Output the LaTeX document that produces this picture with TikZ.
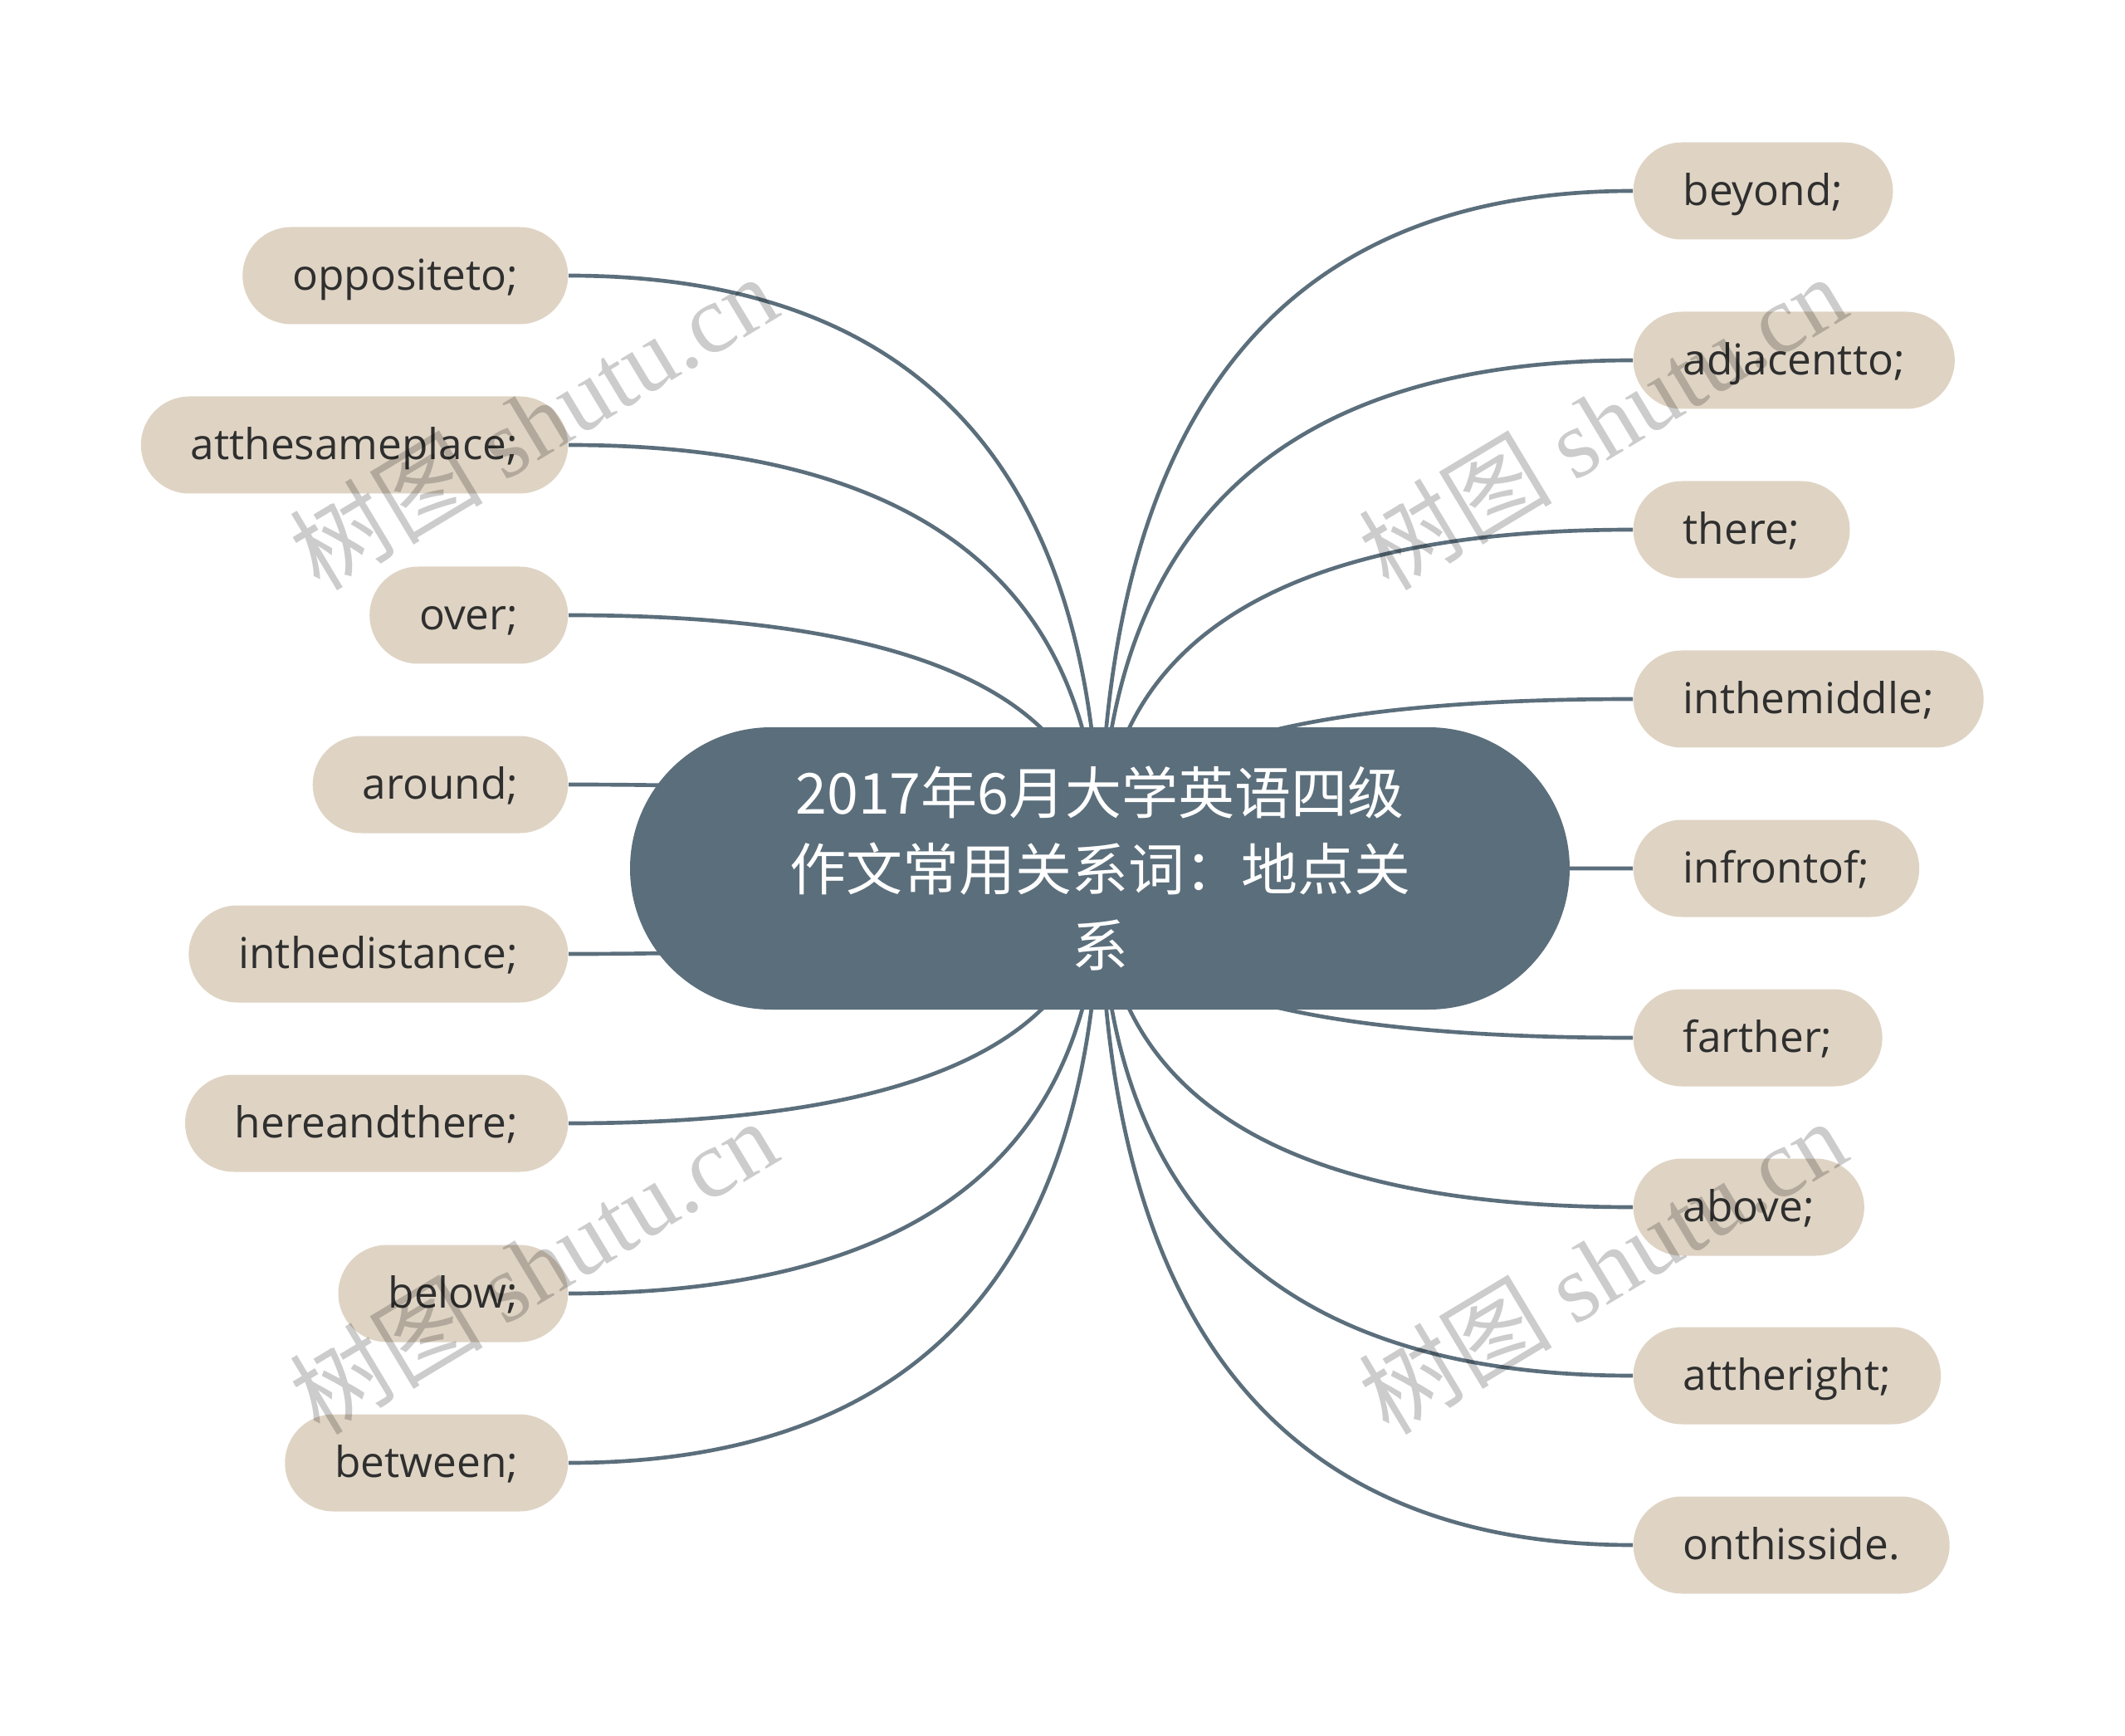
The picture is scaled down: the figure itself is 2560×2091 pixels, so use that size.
\documentclass[tikz,border=0pt]{standalone}
\usepackage{fontspec}
\setmainfont{Open Sans}
\newfontfamily\cjk{Noto Sans CJK SC}
\newfontfamily\wmserif{Liberation Serif}
\usetikzlibrary{calc,backgrounds}
\definecolor{rootfill}{HTML}{5B6E7B}
\definecolor{leaffill}{HTML}{DFD4C4}
\definecolor{leaftext}{HTML}{2F2F2F}
\definecolor{linec}{HTML}{5B6E7B}
\begin{document}
\begin{tikzpicture}[x=0.3pt,y=-0.3pt,
  leaf/.style={fill=leaffill, text=leaftext, rounded corners=17.55pt,
    minimum height=35.1pt, inner xsep=18pt, inner ysep=0pt,
    text height=14pt, text depth=3.5pt,
    font=\fontsize{15.4}{18}\selectfont},
  rootnode/.style={fill=rootfill, text=white, rounded corners=51pt,
    minimum width=339.6pt, minimum height=102pt, align=center,
    font=\cjk\fontsize{20.4}{27.6}\selectfont},
  conn/.style={draw=linec, line width=1.4pt},
  wm/.style={rotate=31, text=black, text opacity=0.2,
    font=\fontsize{35}{38}\selectfont}]
\useasboundingbox (0,0) rectangle (2560,2091);

\node[rootnode] (root) at (1325,1046) {2017年6月大学英语四级\\作文常用关系词：地点关\\系};

\node[leaf, anchor=east] (l1) at (685,332) {oppositeto;};
\node[leaf, anchor=east] (l2) at (685,536) {atthesameplace;};
\node[leaf, anchor=east] (l3) at (685,741) {over;};
\node[leaf, anchor=east] (l4) at (685,945) {around;};
\node[leaf, anchor=east] (l5) at (685,1149) {inthedistance;};
\node[leaf, anchor=east] (l6) at (685,1353) {hereandthere;};
\node[leaf, anchor=east] (l7) at (685,1558) {below;};
\node[leaf, anchor=east] (l8) at (685,1762) {between;};

\node[leaf, anchor=west] (r1) at (1967,230) {beyond;};
\node[leaf, anchor=west] (r2) at (1967,434) {adjacentto;};
\node[leaf, anchor=west] (r3) at (1967,638) {there;};
\node[leaf, anchor=west] (r4) at (1967,842) {inthemiddle;};
\node[leaf, anchor=west] (r5) at (1967,1046) {infrontof;};
\node[leaf, anchor=west] (r6) at (1967,1250) {farther;};
\node[leaf, anchor=west] (r7) at (1967,1454) {above;};
\node[leaf, anchor=west] (r8) at (1967,1657) {attheright;};
\node[leaf, anchor=west] (r9) at (1967,1861) {onthisside.};

\begin{pgfonlayer}{background}
\fill[white] (0,0) rectangle (2560,2091);
\foreach \n/\a in {l1/east,l2/east,l3/east,l4/east,l5/east,l6/east,l7/east,l8/east,
  r1/west,r2/west,r3/west,r4/west,r5/west,r6/west,r7/west,r8/west,r9/west}{
  \draw[conn] (root.center)
    .. controls ($(root.center)!0.6667!(root.center |- \n.\a)$)
    and ($(\n.\a)!0.6667!(root.center |- \n.\a)$) .. (\n.\a);
}
\end{pgfonlayer}

\node[wm] (w1) at (642,508) {\cjk 树图 \wmserif shutu.cn};
\node[wm] (w2) at (642,1525) {\cjk 树图 \wmserif shutu.cn};
\node[wm] (w3) at (1930,508) {\cjk 树图 \wmserif shutu.cn};
\node[wm] (w4) at (1930,1525) {\cjk 树图 \wmserif shutu.cn};
\end{tikzpicture}
\end{document}
